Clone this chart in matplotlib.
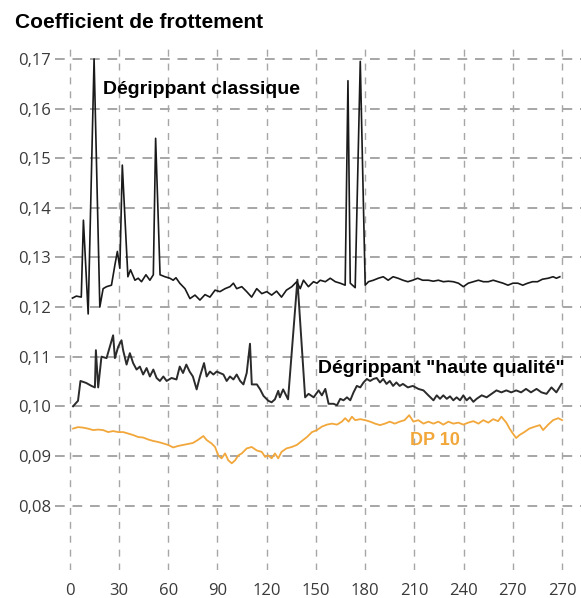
import matplotlib
matplotlib.use("Agg")
import matplotlib.pyplot as plt

# Dégrippant classique
classic_t = [1.6, 4, 7, 8.3, 11.2, 14.8, 18.3, 20.3, 22.4, 25.4, 27.5, 29, 30.5, 32, 35.4,
             37, 39.7, 41.7, 43.7, 46.4, 48.8, 50.9, 52.3, 55, 58, 61, 63, 64.7, 67, 70.2,
             73.2, 76.3, 79.3, 82.4, 85.4, 88.5, 91.5, 94.6, 97.6, 99.7, 101.7, 104.8, 107.8,
             110.8, 113.9, 117, 120, 123, 126, 129, 132, 135.3, 138.3, 140.4, 142.4, 145.4,
             148.5, 150.6, 152.6, 155.7, 158.7, 161.8, 164.8, 167.8, 169.5, 170.9, 173.9, 177,
             180, 182, 185, 188, 191, 194, 197, 200, 203, 206, 209, 212, 215, 218.5, 221.5,
             224.6, 227.6, 230.7, 233.7, 236.8, 239.8, 242.8, 245.9, 249, 252, 255, 258, 261,
             264, 267, 270, 273, 276, 279, 282, 285, 288, 291.5, 294.5, 296.5, 298.6]
classic_v = [0.1218, 0.1222, 0.1220, 0.1375, 0.1186, 0.1700, 0.1200, 0.1237, 0.1241, 0.1244,
             0.1285, 0.1312, 0.1278, 0.1486, 0.1261, 0.1275, 0.1254, 0.1258, 0.1251, 0.1265,
             0.1254, 0.1265, 0.1540, 0.1265, 0.1261, 0.1258, 0.1254, 0.1259, 0.1248, 0.1237,
             0.1217, 0.1224, 0.1214, 0.1225, 0.1220, 0.1234, 0.1231, 0.1237, 0.1241, 0.1248,
             0.1237, 0.1241, 0.1231, 0.1220, 0.1237, 0.1227, 0.1231, 0.1224, 0.1232, 0.1220,
             0.1234, 0.1241, 0.1251, 0.1237, 0.1254, 0.1241, 0.1251, 0.1248, 0.1254, 0.1251,
             0.1258, 0.1251, 0.1248, 0.1244, 0.1656, 0.1248, 0.1239, 0.1695, 0.1244, 0.1251,
             0.1254, 0.1258, 0.1261, 0.1254, 0.1261, 0.1258, 0.1254, 0.1251, 0.1254, 0.1258,
             0.1254, 0.1254, 0.1252, 0.1254, 0.1251, 0.1252, 0.1251, 0.1248, 0.1241, 0.1248,
             0.1251, 0.1254, 0.1251, 0.1251, 0.1254, 0.1251, 0.1248, 0.1244, 0.1248, 0.1248,
             0.1244, 0.1248, 0.1251, 0.1251, 0.1256, 0.1258, 0.1261, 0.1258, 0.1261]

# Dégrippant "haute qualité"
hq_t = [2, 5, 6.5, 10, 13.2, 15.3, 15.9, 17.3, 19.3, 22.4, 24.4, 26.4, 27.5, 29.5, 31.5, 32.5,
        34.6, 36.6, 38.6, 40.7, 42.7, 44.7, 46.8, 48.8, 50.9, 52.9, 54.9, 57, 59, 62, 65, 67,
        69, 71, 73, 75, 77.3, 79.3, 81.8, 83.4, 85.4, 87.5, 89.5, 91.5, 93.6, 95.6, 97.6, 99.7,
        101.7, 103.8, 105.8, 107.8, 109.8, 110.9, 114, 116, 118, 121, 123, 125, 127, 128, 130,
        133, 138.7, 143.4, 145.5, 148.6, 151.6, 153.6, 155.7, 157.7, 160.7, 162.8, 164.8,
        166.8, 168.9, 170.9, 172.9, 174.9, 177, 179, 181, 183, 185, 187, 189, 191, 193, 195,
        197, 199, 201, 203, 206, 209, 212.4, 215.5, 218.5, 221.6, 223.6, 225.6, 227.6, 229.7,
        231.7, 233.7, 235.7, 237.8, 239.8, 241.8, 243.8, 245.9, 247.9, 251, 254, 257, 260, 263,
        266, 269, 272, 275, 278, 281, 284.4, 287.4, 290.5, 293.5, 296.5, 299.6]
hq_v = [0.1000, 0.1011, 0.1051, 0.1047, 0.1041, 0.1038, 0.1113, 0.1038, 0.1100, 0.1097,
        0.1120, 0.1143, 0.1097, 0.1120, 0.1133, 0.1113, 0.1084, 0.1107, 0.1087, 0.1074,
        0.1080, 0.1064, 0.1077, 0.1060, 0.1074, 0.1057, 0.1051, 0.1060, 0.1051, 0.1057,
        0.1054, 0.1080, 0.1067, 0.1084, 0.1070, 0.1060, 0.1034, 0.1060, 0.1087, 0.1060,
        0.1070, 0.1064, 0.1070, 0.1067, 0.1064, 0.1051, 0.1060, 0.1054, 0.1064, 0.1051,
        0.1044, 0.1067, 0.1126, 0.1044, 0.1044, 0.1034, 0.1021, 0.1011, 0.1008, 0.1014,
        0.1031, 0.1018, 0.1034, 0.1014, 0.1255, 0.1018, 0.1025, 0.1018, 0.1032, 0.1022,
        0.1035, 0.1005, 0.1005, 0.1002, 0.1015, 0.1012, 0.1018, 0.1012, 0.1028, 0.1041,
        0.1038, 0.1048, 0.1055, 0.1051, 0.1055, 0.1057, 0.1048, 0.1055, 0.1045, 0.1051,
        0.1041, 0.1048, 0.1041, 0.1045, 0.1038, 0.1041, 0.1035, 0.1032, 0.1022, 0.1012,
        0.1022, 0.1015, 0.1022, 0.1015, 0.1020, 0.1012, 0.1018, 0.1012, 0.1022, 0.1012,
        0.1018, 0.1009, 0.1015, 0.1022, 0.1018, 0.1025, 0.1032, 0.1028, 0.1032, 0.1028,
        0.1032, 0.1028, 0.1035, 0.1028, 0.1035, 0.1028, 0.1025, 0.1038, 0.1028, 0.1045]

# DP 10
dp_t = [2, 5, 8, 11, 14.2, 17.3, 20.3, 23.4, 26.4, 29.5, 32.5, 35.6, 38.6, 41.7, 44.7, 47.8,
        50.9, 53.9, 57, 60, 63, 66, 69, 72, 75, 78, 81.4, 83.4, 86.4, 88.5, 90.5, 92.5, 94.6,
        96.6, 98.7, 100.7, 102.7, 104.8, 107.8, 110.8, 113.9, 117, 119, 121, 123, 125, 127,
        129, 132, 135.3, 138.3, 141.4, 144.5, 147.6, 150.6, 153.6, 156.7, 159.7, 162.8, 165.8,
        167.8, 169.9, 171.9, 173.9, 177, 180, 183, 186, 189, 192, 195, 198, 201, 204, 206.8,
        209.4, 212.4, 215.5, 218.5, 221.6, 224.6, 227.6, 230.7, 233.7, 236.8, 239.8, 242.8,
        245.9, 249, 252, 255, 258, 261, 263, 266, 268, 270, 272, 274, 277, 280, 283.4, 286.4,
        288.4, 291.5, 294.5, 297.6, 300]
dp_v = [0.0955, 0.0958, 0.0957, 0.0955, 0.0952, 0.0953, 0.0952, 0.0948, 0.0950, 0.0948,
        0.0948, 0.0945, 0.0942, 0.0938, 0.0937, 0.0933, 0.0930, 0.0928, 0.0925, 0.0922,
        0.0917, 0.0920, 0.0922, 0.0924, 0.0926, 0.0932, 0.0940, 0.0932, 0.0925, 0.0918,
        0.0901, 0.0895, 0.0905, 0.0891, 0.0885, 0.0891, 0.0901, 0.0905, 0.0915, 0.0918,
        0.0911, 0.0908, 0.0898, 0.0901, 0.0895, 0.0905, 0.0895, 0.0908, 0.0915, 0.0918,
        0.0922, 0.0930, 0.0938, 0.0948, 0.0952, 0.0959, 0.0963, 0.0965, 0.0963, 0.0969,
        0.0976, 0.0969, 0.0979, 0.0972, 0.0974, 0.0972, 0.0969, 0.0965, 0.0962, 0.0965,
        0.0969, 0.0965, 0.0969, 0.0972, 0.0982, 0.0969, 0.0972, 0.0965, 0.0969, 0.0965,
        0.0969, 0.0963, 0.0969, 0.0965, 0.0967, 0.0963, 0.0967, 0.0970, 0.0965, 0.0972,
        0.0967, 0.0974, 0.0970, 0.0979, 0.0967, 0.0955, 0.0945, 0.0936, 0.0942, 0.0948,
        0.0955, 0.0959, 0.0962, 0.0952, 0.0963, 0.0972, 0.0976, 0.0972]

x_ticks = [0, 30, 60, 90, 120, 150, 180, 210, 240, 270, 300]
x_labels = ["0", "30", "60", "90", "120", "150", "180", "210", "240", "270", "270"]
y_ticks = [0.08, 0.09, 0.10, 0.11, 0.12, 0.13, 0.14, 0.15, 0.16, 0.17]
y_labels = ["0,08", "0,09", "0,10", "0,11", "0,12", "0,13", "0,14", "0,15", "0,16", "0,17"]

ORANGE = "#F2A73B"

fig = plt.figure(figsize=(5.81, 5.98), dpi=100)
ax = fig.add_axes([0.0947, 0.0468, 0.9053, 0.8746])

ax.plot(dp_t, dp_v, color=ORANGE, linewidth=1.3)
ax.plot(hq_t, hq_v, color="#2b2b2b", linewidth=1.4)
ax.plot(classic_t, classic_v, color="#1a1a1a", linewidth=1.2)

ax.set_xlim(-9, 311.5)
ax.set_ylim(0.0670, 0.1724)
ax.set_xticks(x_ticks)
ax.set_xticklabels(x_labels)
ax.set_yticks(y_ticks)
ax.set_yticklabels(y_labels)
for s in ax.spines.values():
    s.set_visible(False)
ax.tick_params(length=0, labelsize=12, labelcolor="#3a3a3a")
ax.tick_params(axis="x", pad=9)
ax.tick_params(axis="y", pad=3)
for lab in ax.get_xticklabels() + ax.get_yticklabels():
    lab.set_fontfamily("Open Sans")
ax.yaxis.grid(True, color="#a6a6a6", linestyle=(0, (5, 4)), linewidth=1.4)
ax.xaxis.grid(True, color="#a6a6a6", linestyle=(0, (5, 5)), linewidth=1.0)
ax.set_axisbelow(True)

bold = dict(fontfamily="Liberation Sans", fontweight="bold")
ax.text(20, 0.1638, "Dégrippant classique", color="black", va="center", ha="left",
        fontsize=14, **bold)
ax.text(151, 0.1077, 'Dégrippant "haute qualité"', color="black", va="center", ha="left",
        fontsize=14, **bold)
ax.text(207, 0.0932, "DP 10", color=ORANGE, va="center", ha="left", fontsize=13, **bold)

fig.text(0.026, 0.963, "Coefficient de frottement", fontfamily="Liberation Sans",
         fontweight="bold", fontsize=15, va="center", ha="left", color="black")

fig.savefig("out.png", dpi=100)
